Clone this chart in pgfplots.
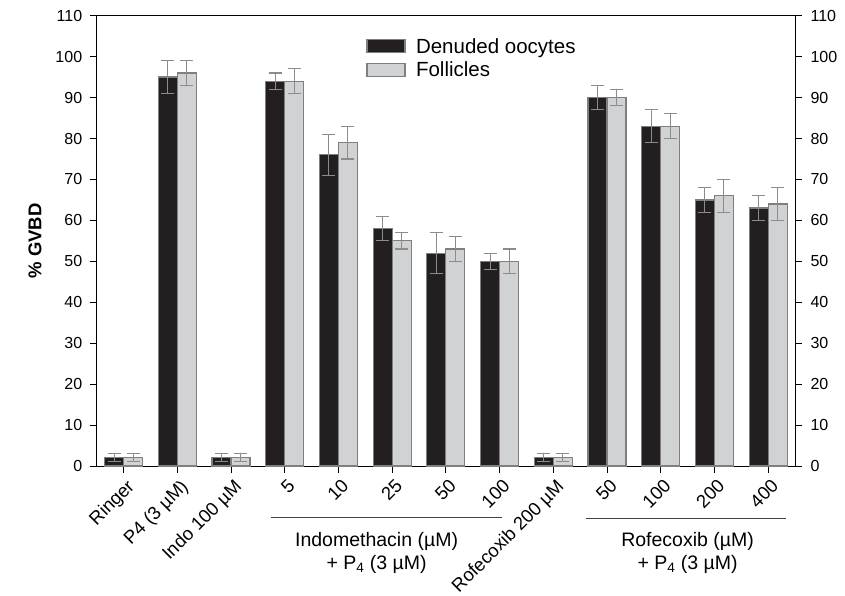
\documentclass[border=0pt]{standalone}
\usepackage{fontspec}
\setmainfont{Liberation Sans}
\usepackage{pgfplots}
\usepackage{pgfplotstable}
\pgfplotsset{compat=1.18}
\definecolor{darkbar}{HTML}{231F20}
\definecolor{lightbar}{HTML}{D1D2D4}
\definecolor{edge}{HTML}{7F7F7F}
\definecolor{errc}{HTML}{8C8C8C}
\pgfplotstableread{
x dark derr light lerr
0 2 1 2 1
1 95 4 96 3
2 2 1 2 1
3 94 2 94 3
4 76 5 79 4
5 58 3 55 2
6 52 5 53 3
7 50 2 50 3
8 2 1 2 1
9 90 3 90 2
10 83 4 83 3
11 65 3 66 4
12 63 3 64 4
}\datatable
\begin{document}
\begin{tikzpicture}
\useasboundingbox (-96.7pt,-130pt) rectangle (748.3pt,466pt);
\begin{axis}[
  at={(0,0)}, anchor=south west, scale only axis,
  width=698.3pt, height=450.3pt,
  xmin=-0.5, xmax=12.5, ymin=0, ymax=110,
  ybar=0pt, bar width=19pt,
  xtick={0,...,12},
  xticklabels={Ringer, P4 (3 µM), Indo 100 µM, 5, 10, 25, 50, 100, Rofecoxib 200 µM, 50, 100, 200, 400},
  xtick pos=left, ytick pos=left,
  ytick={0,10,...,110},
  tick align=outside, major tick length=7pt,
  tick style={black, line width=0.9pt},
  axis line style={line width=1pt},
  xticklabel style={rotate=45, anchor=north east, font=\fontsize{18.5}{21}\selectfont, inner sep=2pt, yshift=-3pt, xshift=0pt},
  yticklabel style={font=\fontsize{16}{18}\selectfont, xshift=-4pt},
  /pgf/number format/assume math mode=true,
  ylabel={\% GVBD},
  ylabel style={font=\fontsize{18.5}{20}\selectfont\bfseries, at={(axis description cs:-0.0884,0.5)}, anchor=center},
  legend style={draw=none, fill=none, at={(0.386,0.955)}, anchor=north west, font=\fontsize{20.5}{22}\selectfont, row sep=3pt, inner sep=0pt},
  legend cell align=left,
  clip=false,
]
\addplot[fill=darkbar, draw=edge, line width=1.2pt,
  legend image code/.code={\draw[fill=darkbar, draw=edge, line width=1.2pt] (0pt,-6.5pt) rectangle (38pt,6.5pt); \path[draw=none, fill=none] (47pt,0pt);},
  error bars/.cd, y dir=both, y explicit,
  error bar style={errc, line width=1.1pt},
  error mark options={rotate=90, errc, mark size=6.5pt, line width=1.1pt}]
  table[x=x, y=dark, y error=derr] {\datatable};
\addlegendentry{Denuded oocytes}
\addplot[fill=lightbar, draw=edge, line width=1.2pt,
  legend image code/.code={\draw[fill=lightbar, draw=edge, line width=1.2pt] (0pt,-6.5pt) rectangle (38pt,6.5pt); \path[draw=none, fill=none] (47pt,0pt);},
  error bars/.cd, y dir=both, y explicit,
  error bar style={errc, line width=1.1pt},
  error mark options={rotate=90, errc, mark size=6.5pt, line width=1.1pt}]
  table[x=x, y=light, y error=lerr] {\datatable};
\addlegendentry{Follicles}
\draw[black!75, line width=0.9pt] (axis cs:2.75,-12.5) -- (axis cs:7.05,-12.5);
\draw[black!75, line width=0.9pt] (axis cs:8.6,-12.7) -- (axis cs:12.34,-12.7);
\node[font=\fontsize{19.5}{23}\selectfont, align=center] at (axis cs:4.71,-21.2) {Indomethacin (µM)\\+ P\textsubscript{4} (3 µM)};
\node[font=\fontsize{19.5}{23}\selectfont, align=center] at (axis cs:10.5,-21.2) {Rofecoxib (µM)\\+ P\textsubscript{4} (3 µM)};
\end{axis}
\begin{axis}[
  at={(0,0)}, anchor=south west, scale only axis,
  width=698.3pt, height=450.3pt,
  xmin=-0.5, xmax=12.5, ymin=0, ymax=110,
  axis x line=none, axis y line*=right,
  ytick={0,10,...,110},
  tick align=outside, major tick length=7pt,
  tick style={black, line width=0.9pt},
  axis line style={line width=1pt},
  yticklabel style={font=\fontsize{16}{18}\selectfont, xshift=5pt},
  /pgf/number format/assume math mode=true,
]
\addplot[draw=none] coordinates {(0,0)};
\end{axis}
\end{tikzpicture}
\end{document}
